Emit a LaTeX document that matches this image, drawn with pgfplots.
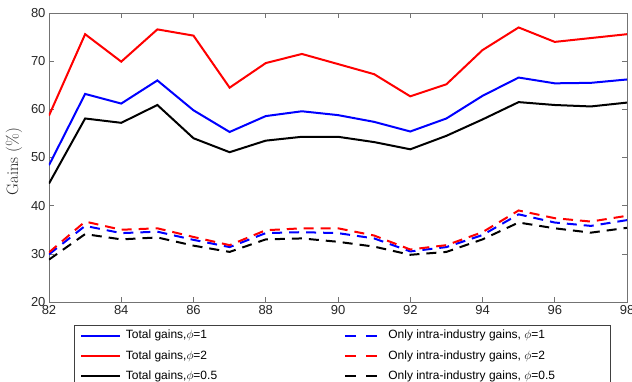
\documentclass[border=0pt]{standalone}
\usepackage{pgfplots}
\usepackage{pgfplotstable}
\pgfplotsset{compat=1.18}
\usepackage{fontspec}
\newfontfamily\arialfont{Liberation Sans}

% Gains (%) by year: total gains and intra-industry-only gains for phi = 1, 2, 0.5
\pgfplotstableread{
year totA totB totC intA intB intC
82 48.4 58.7 44.6 29.9 30.3 28.8
83 63.2 75.6 58.1 35.8 36.7 34.1
84 61.2 69.9 57.2 34.3 35.0 33.0
85 66.0 76.6 60.9 34.6 35.3 33.4
86 59.8 75.3 54.0 32.9 33.5 31.7
87 55.3 64.5 51.1 31.4 31.8 30.4
88 58.6 69.6 53.5 34.3 34.9 33.0
89 59.6 71.5 54.3 34.5 35.3 33.2
90 58.8 69.4 54.3 34.3 35.3 32.5
91 57.4 67.3 53.2 33.2 33.8 31.5
92 55.4 62.7 51.7 30.5 30.9 29.8
93 58.1 65.2 54.5 31.4 31.8 30.4
94 62.8 72.3 57.9 33.9 34.5 33.0
95 66.6 77.0 61.5 38.2 39.0 36.5
96 65.4 74.0 60.9 36.5 37.4 35.3
97 65.5 74.8 60.6 35.8 36.7 34.4
98 66.2 75.6 61.4 37.0 37.9 35.4
}\gains

\pgfplotsset{
  solidleg/.style={legend image code/.code={
      \draw[##1] (0pt,0pt) -- (39pt,0pt);}},
  dashleg/.style={legend image code/.code={
      \draw[##1,dash pattern=on 11pt off 10pt] (0pt,0pt) -- (40pt,0pt);}},
}

\begin{document}
\begin{tikzpicture}[x=1pt,y=1pt]
\begin{axis}[
  at={(49pt,79pt)}, anchor=south west,
  width=578pt, height=289pt, scale only axis,
  xmin=82, xmax=98, ymin=20, ymax=80,
  xtick={82,84,...,98}, ytick={20,30,...,80},
  tick align=inside, major tick length=5pt,
  axis line style={black!55, line width=0.6pt},
  tick style={black!55, line width=0.6pt},
  /pgf/number format/assume math mode=true,
  ticklabel style={font=\arialfont\fontsize{13}{13}\selectfont, text=black!85},
  ylabel={Gains (\%)},
  ylabel style={font=\fontsize{16.5}{16.5}\selectfont, text=black!85,
    at={(axis description cs:-0.0606,0.486)}, anchor=center},
  legend columns=2,
  legend cell align=left,
  legend style={
    at={(axis description cs:0.0433,-0.0796)}, anchor=north west,
    draw=black!75, line width=0.6pt, fill=white,
    inner xsep=6pt, inner ysep=5pt, row sep=9.3pt, column sep=0pt,
    font=\arialfont\fontsize{12}{12}\selectfont,
    nodes={inner sep=0pt, text height=8.5pt, text depth=2.5pt},
  },
]
\addplot[blue, line width=2pt, solidleg] table[x=year, y=totA] {\gains};
\addlegendentry{\makebox[223pt][l]{\hspace{4.5pt}Total gains,$\phi$=1}}
\addplot[blue, line width=2pt, dash pattern=on 10pt off 7pt, dashleg] table[x=year, y=intA] {\gains};
\addlegendentry{\makebox[218pt][l]{\hspace{2pt}Only intra-industry gains, $\phi$=1}}
\addplot[red, line width=2pt, solidleg] table[x=year, y=totB] {\gains};
\addlegendentry{\makebox[223pt][l]{\hspace{4.5pt}Total gains,$\phi$=2}}
\addplot[red, line width=2pt, dash pattern=on 10pt off 7pt, dashleg] table[x=year, y=intB] {\gains};
\addlegendentry{\makebox[218pt][l]{\hspace{2pt}Only intra-industry gains, $\phi$=2}}
\addplot[black, line width=2pt, solidleg] table[x=year, y=totC] {\gains};
\addlegendentry{\makebox[223pt][l]{\hspace{4.5pt}Total gains,$\phi$=0.5}}
\addplot[black, line width=2pt, dash pattern=on 10pt off 7pt, dashleg] table[x=year, y=intC] {\gains};
\addlegendentry{\makebox[218pt][l]{\hspace{2pt}Only intra-industry gains, $\phi$=0.5}}
\end{axis}
\pgfresetboundingbox
\path[use as bounding box] (0pt,0pt) rectangle (632pt,381pt);
\end{tikzpicture}
\end{document}
